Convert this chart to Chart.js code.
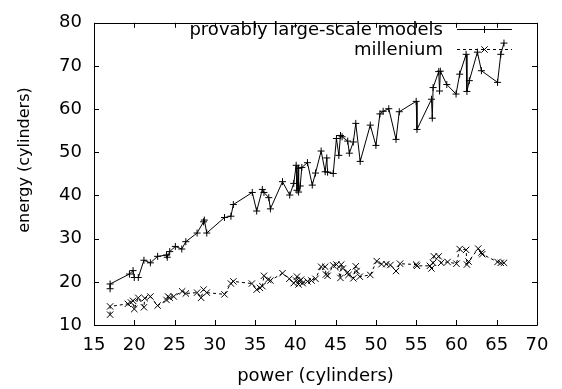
<!DOCTYPE html>
<html>
<head>
<meta charset="utf-8">
<script src="https://cdn.jsdelivr.net/npm/chart.js@4.4.1/dist/chart.umd.min.js"></script>
<style>
html,body{margin:0;padding:0;background:#fff;}
canvas{display:block;}
</style>
</head>
<body>
<canvas id="c" width="562" height="389"></canvas>
<script>
// ---- data ----
const seriesNames = ["provably large-scale models", "millenium"];

const largeScaleX = [17.0,17.0,19.4,19.85,20.0,20.5,21.2,22.0,22.9,24.0,24.1,24.4,25.1,25.9,26.4,27.8,28.6,28.7,29.0,31.2,32.0,32.3,34.65,35.2,35.9,36.1,36.7,36.9,38.4,39.3,39.8,40.1,40.2,40.4,40.4,40.6,40.8,41.5,42.1,42.5,43.2,43.7,43.9,44.0,44.7,45.1,45.4,45.6,45.8,46.5,46.7,47.2,47.5,48.05,49.3,50.0,50.5,50.9,51.6,52.5,52.9,55.0,55.1,56.9,57.0,57.1,57.8,57.9,58.0,58.8,59.95,60.4,61.2,61.3,61.6,62.6,63.1,65.1,65.5,65.9];
const largeScaleY = [18.4,19.5,21.8,22.6,21.0,21.0,25.0,24.4,25.9,26.2,25.7,27.0,28.2,27.6,29.3,31.3,33.9,34.3,31.3,34.9,35.2,37.9,40.7,36.4,41.4,40.7,39.5,36.9,43.2,40.1,42.8,47.0,41.2,46.3,40.8,42.2,46.5,47.6,42.4,45.2,50.3,45.5,48.7,45.4,45.1,53.2,49.3,53.9,53.6,52.6,49.8,52.4,56.7,47.9,56.3,51.6,58.9,59.5,60.1,53.0,59.4,61.8,55.3,62.3,57.9,65.0,68.7,64.2,68.8,65.7,63.5,68.1,72.7,64.1,66.6,73.2,68.9,66.2,72.7,75.3];

const milleniumX = [17.0,17.0,19.2,19.6,19.85,20.0,20.5,21.2,21.3,22.0,22.9,24.0,24.2,24.4,24.9,25.95,26.4,27.8,28.3,28.6,29.0,31.2,32.0,32.3,34.6,35.2,35.6,35.9,36.1,36.6,36.9,38.4,39.25,39.8,40.1,40.2,40.4,40.5,40.7,40.9,41.5,42.0,42.5,43.2,43.7,43.8,44.0,44.7,45.1,45.6,45.7,45.9,46.5,46.6,47.2,47.5,47.6,48.0,49.3,50.1,50.7,51.3,51.8,52.5,53.0,55.0,55.1,56.7,56.9,57.1,57.2,57.8,58.1,58.9,60.0,60.4,61.2,61.3,61.5,62.7,63.1,63.2,65.1,65.5,65.9];
const milleniumY = [12.4,14.3,14.9,15.2,15.6,13.7,16.3,14.1,16.2,16.6,14.5,15.8,16.6,16.3,16.6,17.8,17.3,17.5,16.3,18.2,17.5,17.1,19.6,20.1,19.6,18.2,18.6,19.0,21.4,20.5,20.3,22.0,20.7,19.7,20.3,21.2,19.4,20.1,20.5,19.7,20.1,20.3,20.7,23.5,23.5,21.7,21.4,23.8,24.0,20.9,24.0,23.1,22.2,21.6,20.8,23.6,22.5,21.2,21.6,24.8,24.1,24.1,23.9,22.5,24.2,24.0,23.7,23.7,23.1,24.4,25.9,25.9,24.4,24.6,24.2,27.6,27.4,24.0,24.7,27.7,26.8,26.4,24.6,24.4,24.4];

const xTickValues = [15,20,25,30,35,40,45,50,55,60,65,70];
const yTickValues = [10,20,30,40,50,60,70,80];
const xTitle = "power (cylinders)";
const yTitle = "energy (cylinders)";

// ---- build ----
function pts(xs, ys){ return xs.map((x,i)=>({x:x, y:ys[i]})); }

const FONT = "DejaVu Sans";

const framePlugin = {
  id: 'frame',
  beforeDatasetsDraw(chart){
    const {ctx, chartArea:a, scales} = chart;
    ctx.save();
    ctx.strokeStyle = '#000';
    ctx.lineWidth = 1;
    ctx.beginPath();
    ctx.rect(Math.round(a.left)+0.5, Math.round(a.top)+0.5, Math.round(a.right-a.left), Math.round(a.bottom-a.top));
    ctx.stroke();
    const tl = 5;
    ctx.beginPath();
    xTickValues.forEach(v=>{
      const px = Math.round(scales.x.getPixelForValue(v))+0.5;
      ctx.moveTo(px, a.bottom); ctx.lineTo(px, a.bottom-tl);
      ctx.moveTo(px, a.top); ctx.lineTo(px, a.top+tl);
    });
    yTickValues.forEach(v=>{
      const py = Math.round(scales.y.getPixelForValue(v))+0.5;
      ctx.moveTo(a.left, py); ctx.lineTo(a.left+tl, py);
      ctx.moveTo(a.right, py); ctx.lineTo(a.right-tl, py);
    });
    ctx.stroke();
    // y title
    ctx.fillStyle = '#000';
    ctx.font = '16px ' + FONT;
    ctx.textAlign = 'center';
    ctx.textBaseline = 'middle';
    ctx.translate(25, 160);
    ctx.rotate(-Math.PI/2);
    ctx.fillText(yTitle, 0, 0);
    ctx.restore();
  },
  afterDatasetsDraw(chart){
    const {ctx} = chart;
    ctx.save();
    const rows = [29, 49];
    chart.data.datasets.forEach((ds, i)=>{
      const y = rows[i] + 0.5;
      ctx.fillStyle = '#000';
      ctx.font = '18px ' + FONT;
      ctx.textAlign = 'right';
      ctx.textBaseline = 'middle';
      ctx.fillText(ds.label, 443, rows[i]+1);
      ctx.strokeStyle = '#000';
      ctx.lineWidth = 1;
      ctx.setLineDash(ds.borderDash || []);
      ctx.beginPath();
      ctx.moveTo(457, y); ctx.lineTo(512, y);
      ctx.stroke();
      ctx.setLineDash([]);
      Chart.helpers.drawPoint(ctx, {pointStyle: ds.pointStyle, radius: ds.pointRadius, rotation: 0, borderWidth: 1}, 484.5, y);
    });
    ctx.restore();
  }
};

new Chart(document.getElementById('c'), {
  type: 'scatter',
  data: {
    datasets: [
      {
        label: seriesNames[0],
        data: pts(largeScaleX, largeScaleY),
        showLine: true,
        borderColor: '#000',
        backgroundColor: '#000',
        borderWidth: 1,
        pointStyle: 'cross',
        pointRadius: 3.5,
        pointBorderWidth: 1,
        pointBorderColor: '#000',
        tension: 0
      },
      {
        label: seriesNames[1],
        data: pts(milleniumX, milleniumY),
        showLine: true,
        borderColor: '#000',
        backgroundColor: '#000',
        borderWidth: 1,
        borderDash: [3, 3],
        pointStyle: 'crossRot',
        pointRadius: 4.5,
        pointBorderWidth: 1,
        pointBorderColor: '#000',
        tension: 0
      }
    ]
  },
  options: {
    responsive: false,
    animation: false,
    events: [],
    layout: { padding: { top: 13, right: 25, left: 0, bottom: 0 } },
    plugins: { legend: { display: false }, tooltip: { enabled: false } },
    scales: {
      x: {
        type: 'linear',
        min: 15, max: 70,
        afterBuildTicks(s){ s.ticks = xTickValues.map(v=>({value:v})); },
        afterFit(s){ s.height = 64; },
        grid: { display: false, drawTicks: false },
        border: { display: false },
        ticks: { color: '#000', font: { family: FONT, size: 18 }, padding: 10, maxRotation: 0, autoSkip: false },
        title: { display: true, text: xTitle, color: '#000', font: { family: FONT, size: 18 }, padding: { top: 0, bottom: 2 } }
      },
      y: {
        type: 'linear',
        min: 10, max: 80,
        afterBuildTicks(s){ s.ticks = yTickValues.map(v=>({value:v})); },
        afterFit(s){ s.width = 94; },
        grid: { display: false, drawTicks: false },
        border: { display: false },
        ticks: { color: '#000', font: { family: FONT, size: 18 }, padding: 12, autoSkip: false }
      }
    }
  },
  plugins: [framePlugin]
});
</script>
</body>
</html>
